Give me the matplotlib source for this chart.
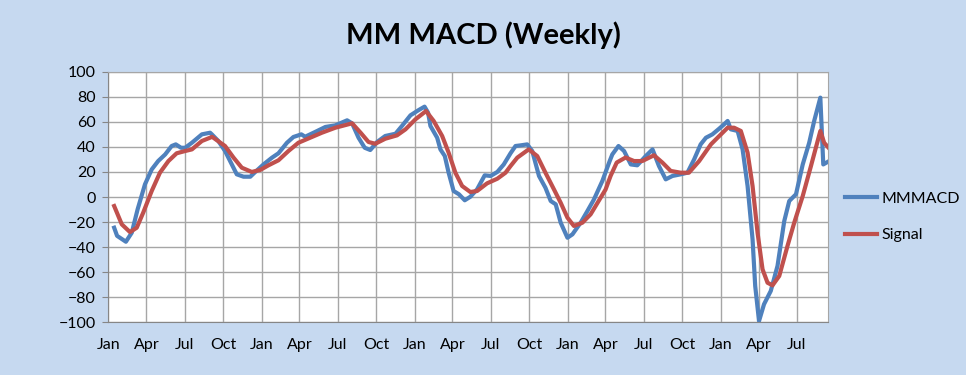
import matplotlib
matplotlib.use("Agg")
import matplotlib.pyplot as plt
import matplotlib.dates as mdates
import pandas as pd

plt.rcParams["font.family"] = ["Lato", "DejaVu Sans"]

# weeks since 2016-01-01
macd_weeks = [2, 3, 6, 8, 10, 12.5, 14.8, 17, 19.4, 21.6, 23, 24.8, 26.2, 28.5, 31.9,
              34.7, 35.3, 37.5, 39.8, 42.1, 43.8, 46.1, 48.4, 50.1, 52.9, 55.8, 58,
              60.9, 63.1, 65.8, 67.1, 68.8, 70.5, 74, 77.4, 81.4, 83.1, 85.3, 87.4,
              89.3, 91.6, 94.4, 97.9, 100.1, 103, 105.8, 107.8, 109, 109.8, 112.1,
              113.2, 114.7, 116, 117.7, 119.5, 121.5, 123.4, 125.7, 128.3, 130.3,
              132.6, 134.8, 137.1, 138.8, 140.5, 142.8, 144.5, 146.8, 149, 150.8,
              152.5, 154.2, 156.5, 158.2, 161, 163.3, 165.5, 168.4, 170.9, 171.8,
              173.9, 175.8, 178.1, 180.3, 183.2, 185.5, 187.7, 190, 192.3, 195.1,
              197.4, 199.7, 201.9, 203.7, 205.9, 208.2, 209.9, 211.1, 212.2, 214.5,
              216.2, 217.9, 219.6, 220.5, 221.8, 223.5, 225.8, 228.1, 230.4, 232.1,
              234.4, 236.7, 238.9, 240.6, 242.7, 243.7, 245.7]
macd_vals = [-24.5, -31, -35.7, -28.5, -9.8, 10.1, 22, 28.7, 34, 40.7, 42, 39.3, 39.3,
             43.3, 50, 51.3, 50, 44.7, 36.7, 26, 18.1, 16.2, 16.2, 20, 26, 31.4, 34.9,
             43.3, 47.9, 50, 48.1, 50, 51.9, 55.9, 57.2, 61.2, 58.8, 47.3, 39.3, 37.5,
             43.9, 48.7, 50.5, 56.7, 65.2, 69.4, 72.1, 67.3, 56.7, 47.3, 38, 32.7,
             19.4, 4.8, 2.2, -2.6, 0.2, 6.1, 17.3, 16.8, 20, 26, 34.9, 40.7, 41.2, 42,
             36.7, 16.8, 7.4, -3.2, -5.8, -20.5, -32.5, -29.8, -20.5, -11.2, -2.1,
             12.8, 28.7, 34, 40.7, 36.7, 26, 25.3, 32.7, 38, 24.7, 14.1, 16.8, 18.1,
             19.4, 30.1, 42, 47.3, 50, 54.5, 58, 60.7, 54, 52.7, 38, 8.8, -33.8, -71,
             -99, -85.6, -75, -55, -19.2, -3.2, 2.2, 26, 43.3, 60.7, 79.3, 26, 28.7]

signal_weeks = [2, 4.6, 7.4, 9.7, 11.9, 14.8, 17.6, 20.5, 23.3, 26.2, 28.5, 31.9, 35.4,
                39.8, 42.7, 45.5, 48.9, 51.8, 54.6, 58, 61.4, 64.8, 68.8, 72.8, 77.4,
                83.1, 86, 88.7, 91, 94.4, 98.4, 101.3, 104.7, 108.3, 110.9, 113.8, 116,
                118.3, 120.6, 123.4, 125.7, 129.1, 132.6, 135.4, 137.1, 139.4, 143.3,
                146.2, 149, 151.9, 154.2, 156.5, 158.7, 161.6, 164.4, 167.8, 169.5,
                171.2, 173.3, 176.3, 179.2, 182, 186, 188.9, 191.7, 195.1, 197.9, 201.4,
                205.4, 207.1, 211.1, 213.3, 215.6, 217.9, 219.6, 221.3, 223, 224.7,
                226.4, 228.7, 231.5, 233.8, 236.7, 239.5, 242.7, 244, 246]
signal_vals = [-7.2, -21.8, -28, -24.5, -12.5, 4.8, 19.4, 28.7, 34.9, 36.7, 38, 44.7,
               48, 40.7, 31.4, 23.4, 20, 21.6, 25.3, 29.3, 36.7, 43.3, 47.3, 51.3, 55.3,
               58.8, 51.3, 43.9, 42.5, 46.5, 49.2, 54, 62, 68.6, 60.7, 48.7, 35.4, 19.4,
               8.8, 4, 4.8, 10.9, 14.6, 19.4, 24.7, 31.4, 38, 32.7, 19.4, 6.1, -4.6,
               -16.5, -23.1, -20.5, -13.8, -0.6, 6, 16.8, 27.5, 31.5, 28.7, 28.7, 33.3,
               27.4, 20.8, 19.4, 19.4, 28.7, 42, 46, 55.3, 55.3, 52.7, 35.4, 8.8, -28.5,
               -57.7, -68.4, -70.5, -63, -39.1, -20.5, 0.8, 24.7, 52.7, 43.3, 38]

start = pd.Timestamp("2016-01-01")
macd_dates = start + pd.to_timedelta([w * 7 for w in macd_weeks], unit="D")
signal_dates = start + pd.to_timedelta([w * 7 for w in signal_weeks], unit="D")

bg = "#C6D9F0"
fig = plt.figure(figsize=(9.66, 3.75), dpi=100, facecolor=bg)
ax = fig.add_axes([0.1121, 0.1405, 0.7454, 0.6683])
ax.set_facecolor("white")

ax.plot(macd_dates, macd_vals, color="#4F81BD", lw=3, label="MMMACD", zorder=3)
ax.plot(signal_dates, signal_vals, color="#C0504D", lw=3, label="Signal", zorder=4)

ax.set_ylim(-100, 100)
ax.set_yticks(range(-100, 101, 20))
ax.set_xlim(start, pd.Timestamp("2020-09-14"))
ax.xaxis.set_major_locator(mdates.MonthLocator(bymonth=[1, 4, 7, 10]))
ax.xaxis.set_major_formatter(mdates.DateFormatter("%b"))

ax.grid(True, color="#A6A6A6", lw=1)
ax.set_axisbelow(True)
for s in ax.spines.values():
    s.set_color("#A6A6A6")
ax.spines["left"].set_color("#868686")
ax.spines["bottom"].set_color("#868686")
ax.tick_params(axis="both", labelsize=11.5, color="#868686", length=4, pad=5)
ax.tick_params(axis="x", length=0, pad=11)

fig.text(0.5, 0.905, "MM MACD (Weekly)", ha="center", va="center",
         fontsize=21, fontweight="bold")

ax.legend(loc="center left", bbox_to_anchor=(1.003, 0.42), frameon=False,
          fontsize=11.5, handlelength=2.0, labelspacing=1.4, handletextpad=0.3)

fig.savefig("out.png", dpi=100, facecolor=bg)
